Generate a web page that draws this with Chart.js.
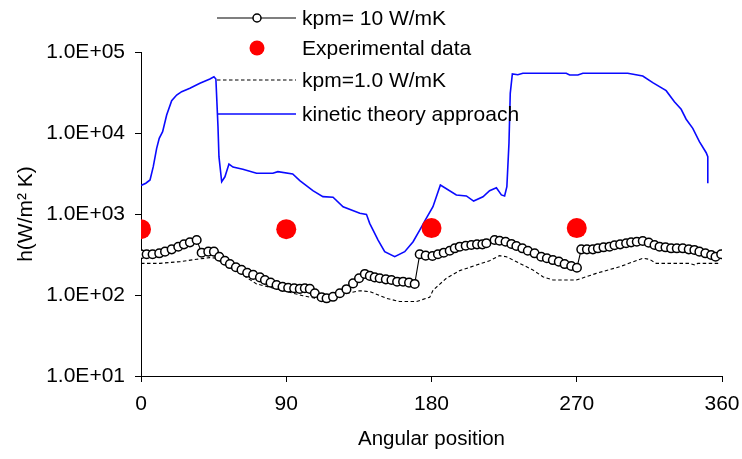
<!DOCTYPE html>
<html>
<head>
<meta charset="utf-8">
<script src="https://cdn.jsdelivr.net/npm/chart.js@4/dist/chart.umd.min.js"></script>
<style>
  html, body { margin: 0; padding: 0; background: #fff; }
  #wrap { width: 742px; height: 459px; position: relative; }
</style>
</head>
<body>
<div id="wrap"><canvas id="c" width="742" height="459"></canvas></div>
<script>
// ---- data ----
const xTicks = [0, 90, 180, 270, 360];
const yTicks = [10, 100, 1000, 10000, 100000];

const seriesNames = ["kpm= 10 W/mK", "Experimental data", "kpm=1.0 W/mK", "kinetic theory approach"];

const angles10 = [0, 3.5, 7.2, 11.3, 14.9, 19.0, 23.1, 26.6, 30.3, 34.5, 37.6, 41.7, 45.2, 48.5, 52.0, 55.1, 58.8, 62.3, 65.8, 69.5, 73.7, 76.8, 80.3, 84.0, 87.7, 91.2, 94.9, 98.4, 101.5, 104.6, 107.7, 111.9, 115.0, 119.0, 123.2, 127.3, 131.4, 135.1, 138.7, 141.8, 144.8, 147.9, 151.7, 155.2, 158.7, 162.4, 166.1, 169.6, 172.7, 176.4, 180.6, 184.0, 187.6, 191.3, 194.4, 197.5, 201.2, 204.7, 208.2, 211.5, 214.0, 219.1, 222.2, 225.9, 229.5, 232.6, 236.3, 239.7, 243.9, 248.0, 251.5, 255.2, 258.9, 262.5, 266.6, 270.1, 272.8, 276.3, 280.0, 283.1, 286.6, 290.3, 293.4, 296.9, 300.6, 303.7, 307.2, 310.9, 314.6, 318.2, 321.3, 325.0, 328.5, 332.0, 335.7, 339.4, 342.9, 346.0, 349.7, 353.3, 356.0, 359.5];
const kpm10 = [318, 318, 318, 327, 343, 366, 394, 422, 447, 477, 333, 343, 343, 297, 265, 241, 220, 204, 188, 177, 165, 153, 142, 133, 126, 123, 121, 119, 121, 119, 105, 94, 91, 95, 105, 118, 139, 161, 182, 172, 165, 161, 156, 153, 146, 146, 142, 137, 318, 306, 303, 318, 333, 352, 377, 395, 406, 414, 422, 422, 435, 477, 468, 455, 427, 403, 377, 352, 327, 297, 284, 270, 258, 241, 228, 217, 366, 366, 366, 377, 388, 395, 411, 422, 435, 447, 455, 464, 443, 414, 395, 388, 377, 377, 377, 366, 360, 343, 327, 312, 297, 318];

const expAngles = [0, 90, 180, 270];
const expValues = [650, 650, 670, 670];

const angles1 = [0, 11.8, 24.1, 34.5, 42.7, 45.8, 55.1, 71.6, 89.1, 100.3, 111.9, 118.8, 126.3, 135.6, 141.8, 152.1, 160.3, 170.7, 178.9, 181.0, 189.2, 197.5, 207.8, 216.0, 222.2, 226.4, 234.6, 242.8, 249.0, 255.2, 269.7, 282.1, 296.5, 310.9, 315.1, 319.2, 339.4, 343.5, 345.0, 359.0];
const kpm1 = [246, 246, 258, 276, 289, 286, 223, 137, 112, 98, 88, 92, 103, 113, 110, 91, 83, 83, 94, 115, 161, 200, 234, 265, 306, 297, 246, 204, 168, 153, 153, 185, 223, 284, 276, 246, 246, 234, 246, 246];

const anglesKin = [0, 3.0, 5.6, 7.6, 9.7, 11.3, 13.4, 15.9, 19.0, 22.1, 25.2, 30.3, 36.5, 42.7, 45.2, 46.4, 47.7, 48.3, 50.0, 52.0, 54.5, 57.0, 63.1, 71.6, 81.7, 84.8, 94.0, 98.4, 106.5, 112.7, 119.0, 125.2, 135.6, 139.7, 141.7, 146.9, 151.0, 157.2, 163.4, 168.6, 172.7, 176.4, 180.9, 185.5, 195.4, 201.6, 206.1, 211.9, 216.0, 220.2, 223.3, 225.3, 226.7, 228.0, 228.8, 230.1, 233.5, 236.6, 263.5, 265.6, 270.7, 273.8, 301.6, 310.9, 317.1, 325.4, 330.5, 334.7, 337.8, 341.9, 346.0, 350.2, 351.2, 351.2];
const kinetic = [2250, 2400, 2630, 3840, 6470, 8610, 10400, 16700, 25000, 29400, 32400, 35600, 41100, 46400, 49500, 46400, 12000, 5100, 2500, 2880, 4140, 3800, 3570, 3180, 3180, 3330, 3120, 2580, 1940, 1640, 1610, 1230, 1020, 990, 767, 477, 343, 297, 343, 455, 634, 861, 1230, 2280, 1720, 1670, 1445, 1630, 1940, 2110, 1720, 1670, 2170, 7470, 30900, 53500, 52400, 54600, 54600, 52000, 52000, 54600, 54600, 50600, 41800, 33300, 24300, 19600, 14800, 11400, 7820, 5710, 5100, 2390];

// ---- build datasets ----
const pts = (xs, ys) => xs.map((x, i) => ({ x: x, y: ys[i] }));
const FONT = "'Liberation Sans', Arial, sans-serif";
const FS = 21;

const legendPlugin = {
  id: 'customLegend',
  afterDraw(chart) {
    const ctx = chart.ctx;
    const x0 = 217, x1 = 296, xm = 257, tx = 302;
    const rows = [18, 48, 80, 114];
    ctx.save();
    ctx.strokeStyle = '#000'; ctx.lineWidth = 1.2; ctx.setLineDash([]);
    ctx.beginPath(); ctx.moveTo(x0, rows[0]); ctx.lineTo(x1, rows[0]); ctx.stroke();
    ctx.fillStyle = '#fff'; ctx.lineWidth = 1.5;
    ctx.beginPath(); ctx.arc(xm, rows[0], 4, 0, Math.PI * 2); ctx.fill(); ctx.stroke();
    ctx.fillStyle = '#ff0000';
    ctx.beginPath(); ctx.arc(xm, rows[1], 7.5, 0, Math.PI * 2); ctx.fill();
    ctx.strokeStyle = '#000'; ctx.lineWidth = 1.2; ctx.setLineDash([3.5, 2.5]);
    ctx.beginPath(); ctx.moveTo(x0, rows[2]); ctx.lineTo(x1, rows[2]); ctx.stroke();
    ctx.setLineDash([]);
    ctx.strokeStyle = '#0a0aff'; ctx.lineWidth = 1.6;
    ctx.beginPath(); ctx.moveTo(x0 + 1, rows[3]); ctx.lineTo(x1, rows[3]); ctx.stroke();
    ctx.fillStyle = '#000';
    ctx.font = FS + 'px ' + FONT;
    ctx.textBaseline = 'middle'; ctx.textAlign = 'left';
    seriesNames.forEach((n, i) => ctx.fillText(n, tx, rows[i] + 1));
    ctx.restore();
  }
};

const expFmt = v => {
  const e = Math.round(Math.log10(v));
  return '1.0E' + (e >= 0 ? '+' : '-') + String(Math.abs(e)).padStart(2, '0');
};

new Chart(document.getElementById('c'), {
  type: 'line',
  data: {
    datasets: [
      {
        label: seriesNames[1], data: pts(expAngles, expValues), order: 0,
        showLine: false, pointRadius: 10, pointHoverRadius: 10,
        pointBackgroundColor: '#ff0000', pointBorderColor: '#ff0000', pointBorderWidth: 0
      },
      {
        label: seriesNames[0], data: pts(angles10, kpm10), order: 1,
        borderColor: '#000', borderWidth: 1.1, tension: 0,
        pointRadius: 4.3, pointHoverRadius: 4.3, pointBorderWidth: 1.5,
        pointBackgroundColor: '#fff', pointBorderColor: '#000'
      },
      {
        label: seriesNames[2], data: pts(angles1, kpm1), order: 2,
        borderColor: '#000', borderWidth: 1.1, borderDash: [3.5, 2.5], tension: 0,
        pointRadius: 0
      },
      {
        label: seriesNames[3], data: pts(anglesKin, kinetic), order: 3,
        borderColor: '#0a0aff', borderWidth: 1.6, tension: 0,
        pointRadius: 0
      }
    ]
  },
  options: {
    responsive: false,
    animation: false,
    events: [],
    layout: { padding: { left: 0, right: 20, top: 52, bottom: 0 } },
    plugins: { legend: { display: false }, tooltip: { enabled: false } },
    scales: {
      x: {
        type: 'linear', min: 0, max: 360,
        afterBuildTicks: s => { s.ticks = xTicks.map(v => ({ value: v })); },
        afterFit: s => { s.height = 83; s.paddingRight = 0; s.paddingLeft = 0; },
        ticks: { color: '#000', font: { family: FONT, size: FS }, padding: 10, maxRotation: 0 },
        grid: { drawOnChartArea: false, color: '#000', tickColor: '#000', tickLength: 6, lineWidth: 1 },
        border: { display: true, color: '#000', width: 1 },
        title: { display: true, text: 'Angular position', color: '#000', font: { family: FONT, size: 20.5 }, padding: { top: 4, bottom: 7 } }
      },
      y: {
        type: 'logarithmic', min: 10, max: 100000,
        afterBuildTicks: s => { s.ticks = yTicks.map(v => ({ value: v })); },
        afterFit: s => { s.width = 141; s.paddingTop = 0; s.paddingBottom = 0; },
        ticks: { color: '#000', font: { family: FONT, size: FS }, padding: 10, callback: v => expFmt(v) },
        grid: { drawOnChartArea: false, color: '#000', tickColor: '#000', tickLength: 6, lineWidth: 1 },
        border: { display: true, color: '#000', width: 1 },
        title: { display: true, text: 'h(W/m² K)', color: '#000', font: { family: FONT, size: FS }, padding: { top: 14, bottom: 4 } }
      }
    }
  },
  plugins: [legendPlugin]
});
</script>
</body>
</html>
